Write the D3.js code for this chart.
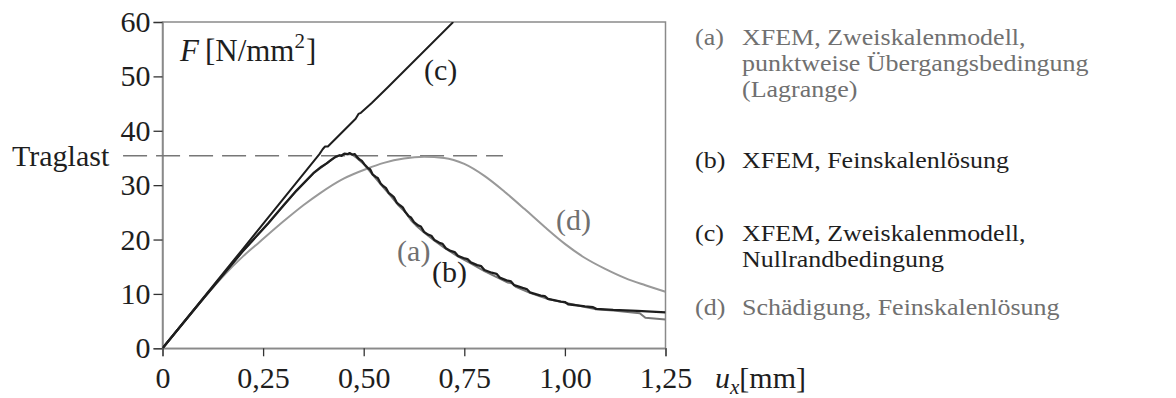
<!DOCTYPE html>
<html>
<head>
<meta charset="utf-8">
<script src="https://cdn.jsdelivr.net/npm/d3@7"></script>
<style>
  body { margin: 0; background: #fff; }
  svg text { font-family: "Liberation Serif", "Times New Roman", serif; }
</style>
</head>
<body>
<div id="chart"></div>
<script>
// values: [u_x in mm, F in N/mm^2]
const xTicks = [0, 0.25, 0.5, 0.75, 1.0, 1.25];
const yTicks = [0, 10, 20, 30, 40, 50, 60];
const traglast = 35.4;
const traglastSpan = [-0.098, 0.846];

// (c) XFEM, Zweiskalenmodell, Nullrandbedingung
const curveC = [[0,0],[0.2,18.3],[0.39,35.7],[0.398,36.6],[0.404,37.1],[0.411,37.1],[0.48,42.2],
  [0.487,43.1],[0.493,43.3],[0.52,45.1],[0.56,48.0],[0.7225,60]];

// (b) XFEM, Feinskalenlösung
const curveB = [[0,0],[0.1,9.0],[0.2,17.9],[0.263,23.0],[0.3,26.2],[0.333,29.0],[0.375,32.2],
  [0.395,33.4],[0.408,34.0],[0.42,34.7],[0.43,35.2],[0.44,35.5],[0.445,35.4],[0.452,35.8],
  [0.46,35.7],[0.465,35.9],[0.472,35.6],[0.478,35.7],[0.483,35.2],[0.49,34.7],[0.495,34.5],
  [0.502,33.8],[0.511,33.1],[0.516,32.9],[0.522,32.0],[0.53,31.5],[0.535,31.3],[0.542,30.3],
  [0.549,29.8],[0.555,29.5],[0.562,28.6],[0.57,28.1],[0.575,27.8],[0.582,26.8],[0.59,26.3],
  [0.597,25.9],[0.604,25.0],[0.612,24.3],[0.618,24.0],[0.625,23.2],[0.635,22.6],[0.642,22.4],
  [0.65,21.4],[0.66,20.9],[0.668,20.7],[0.676,19.9],[0.688,19.4],[0.696,19.2],[0.704,18.4],
  [0.716,17.9],[0.726,17.7],[0.734,17.0],[0.748,16.6],[0.758,16.4],[0.766,15.8],[0.782,15.3],
  [0.792,15.1],[0.8,14.4],[0.818,13.9],[0.83,13.7],[0.838,13.0],[0.855,12.5],[0.866,12.3],
  [0.874,11.6],[0.895,11.1],[0.905,10.9],[0.913,10.3],[0.94,9.7],[0.95,9.6],[0.958,9.1],
  [0.99,8.6],[1.0,8.5],[1.008,8.1],[1.05,7.7],[1.07,7.55],[1.078,7.25],[1.12,7.05],
  [1.18,6.9],[1.25,6.6]];

// (a) XFEM, Zweiskalenmodell, punktweise Übergangsbedingung (Lagrange)
const curveA = [[0,0],[0.1,9.0],[0.2,17.9],[0.263,23.0],[0.3,26.2],[0.333,29.0],[0.375,32.2],
  [0.408,34.0],[0.43,35.2],[0.452,35.7],[0.47,35.7],[0.483,35.0],[0.5,33.9],[0.52,32.1],
  [0.545,29.9],[0.565,28.2],[0.585,26.4],[0.605,24.9],[0.618,23.5],[0.63,22.6],[0.65,21.3],
  [0.676,19.8],[0.7,18.5],[0.734,16.9],[0.766,15.6],[0.8,14.2],[0.838,12.8],[0.858,12.1],
  [0.87,11.9],[0.878,11.3],[0.913,10.2],[0.94,9.5],[0.96,9.0],[1.0,8.4],[1.05,7.6],
  [1.075,7.2],[1.12,6.95],[1.186,6.45],[1.2,5.6],[1.25,5.3]];

// (d) Schädigung, Feinskalenlösung
const curveD = [[0,0],[0.1,9.0],[0.15,13.2],[0.2,16.9],[0.242,19.6],[0.3,23.3],[0.35,26.3],
  [0.391,28.5],[0.45,31.2],[0.507,33.0],[0.55,34.1],[0.6,34.9],[0.65,35.2],[0.7,35.0],
  [0.75,33.9],[0.8,31.7],[0.85,28.8],[0.9,25.6],[0.95,22.3],[1.0,19.2],[1.05,16.6],
  [1.1,14.6],[1.15,12.9],[1.2,11.6],[1.25,10.4]];

const legendKeys = ["(a)", "(b)", "(c)", "(d)"];
const legendTexts = [
  ["XFEM, Zweiskalenmodell,", "punktweise Übergangsbedingung", "(Lagrange)"],
  ["XFEM, Feinskalenlösung"],
  ["XFEM, Zweiskalenmodell,", "Nullrandbedingung"],
  ["Schädigung, Feinskalenlösung"]
];

const width = 1176, height = 398;
const margin = ({ top: 22, right: 510.5, bottom: 49.7, left: 162.5 });
const dark = "#1e1e1e", grey = "#8a8a8a", greyText = "#707070";

const svg = d3.select("#chart")
  .append("svg")
  .attr("width", width)
  .attr("height", height)
  .attr("viewBox", [0, 0, width, height]);

const x = d3.scaleLinear()
  .domain([0, 1.25])
  .range([margin.left, width - margin.right]);

const y = d3.scaleLinear()
  .domain([0, 60])
  .range([height - margin.bottom, margin.top]);

svg.append("clipPath").attr("id", "plot")
  .append("rect")
  .attr("x", x(0)).attr("y", y(60))
  .attr("width", x(1.25) - x(0)).attr("height", y(0) - y(60));

// frame
svg.append("rect")
  .attr("x", x(0)).attr("y", y(60))
  .attr("width", x(1.25) - x(0)).attr("height", y(0) - y(60))
  .attr("fill", "none")
  .attr("stroke", grey)
  .attr("stroke-width", 1.5);

// Y axis
const yAxis = svg.append("g")
  .attr("transform", `translate(${x(0)},0)`)
  .call(d3.axisLeft(y)
    .tickValues(yTicks)
    .tickSize(9)
    .tickPadding(3)
    .tickFormat(d => d)
  );

// X axis
const xAxis = svg.append("g")
  .attr("transform", `translate(0,${y(0)})`)
  .call(d3.axisBottom(x)
    .tickValues(xTicks)
    .tickSize(8)
    .tickPadding(10)
    .tickFormat(d => d === 0 ? "0" : d3.format(".2f")(d).replace(".", ","))
  );

for (let ax of [xAxis, yAxis]) {
  ax.select(".domain").attr("stroke", grey).attr("stroke-width", 1.5);
  ax.selectAll(".tick line").attr("stroke", "#333").attr("stroke-width", 1.3);
  ax.selectAll(".tick text")
    .attr("font-size", 30)
    .attr("font-family", "Liberation Serif, serif")
    .attr("fill", dark);
}

// Traglast reference line
svg.append("line")
  .attr("x1", x(traglastSpan[0])).attr("x2", x(traglastSpan[1]))
  .attr("y1", y(traglast)).attr("y2", y(traglast))
  .attr("stroke", "#777")
  .attr("stroke-width", 1.6)
  .attr("stroke-dasharray", "24 9");

svg.append("text")
  .text("Traglast")
  .attr("x", 12)
  .attr("y", y(traglast) + 10)
  .attr("font-size", 30)
  .attr("fill", dark);

const line = d3.line()
  .x(d => x(d[0]))
  .y(d => y(d[1]));

const series = [
  { data: curveD, color: "#999", w: 2, curve: d3.curveMonotoneX },
  { data: curveA, color: "#777", w: 2, curve: d3.curveLinear },
  { data: curveB, color: dark, w: 2.3, curve: d3.curveLinear },
  { data: curveC, color: dark, w: 2, curve: d3.curveLinear }
];

const plot = svg.append("g").attr("clip-path", "url(#plot)");
for (let s of series) {
  plot.append("path")
    .datum(s.data)
    .attr("fill", "none")
    .attr("stroke", s.color)
    .attr("stroke-width", s.w)
    .attr("stroke-linejoin", "round")
    .attr("d", line.curve(s.curve));
}

// curve labels
const curveLabels = [
  { t: "(c)", u: 0.65, f: 49.3, c: dark },
  { t: "(a)", u: 0.583, f: 16.0, c: greyText },
  { t: "(b)", u: 0.67, f: 12.2, c: dark },
  { t: "(d)", u: 0.978, f: 21.8, c: greyText }
];
svg.selectAll(".clabel")
  .data(curveLabels)
  .join("text")
  .attr("class", "clabel")
  .attr("x", d => x(d.u))
  .attr("y", d => y(d.f))
  .attr("font-size", 30)
  .attr("fill", d => d.c)
  .text(d => d.t);

// axis titles
const fLabel = svg.append("text")
  .attr("x", 180)
  .attr("y", 61)
  .attr("font-size", 31)
  .attr("fill", dark);
fLabel.append("tspan").attr("font-style", "italic").text("F");
fLabel.append("tspan").attr("dx", 6).text("[N/mm");
fLabel.append("tspan").attr("font-size", 21).attr("dy", -13).text("2");
fLabel.append("tspan").attr("dy", 13).attr("dx", 1).text("]");

const uLabel = svg.append("text")
  .attr("x", 715)
  .attr("y", 388)
  .attr("font-size", 30)
  .attr("fill", dark);
uLabel.append("tspan").attr("font-style", "italic").text("u");
uLabel.append("tspan").attr("font-style", "italic").attr("font-size", 21).attr("dy", 6).text("x");
uLabel.append("tspan").attr("dy", -6).text("[mm]");

// legend: slightly wide type, as in the figure
const legendY = [45, 168, 241, 315];
const legendColors = [greyText, dark, dark, greyText];
legendKeys.forEach((k, i) => {
  let g = svg.append("g").attr("fill", legendColors[i]).attr("font-size", 23);
  g.append("text")
    .attr("transform", `translate(695,${legendY[i]}) scale(1.13,1)`)
    .text(k);
  legendTexts[i].forEach((t, j) => {
    g.append("text")
      .attr("transform", `translate(742,${legendY[i] + j * 26}) scale(1.13,1)`)
      .text(t);
  });
});
</script>
</body>
</html>
